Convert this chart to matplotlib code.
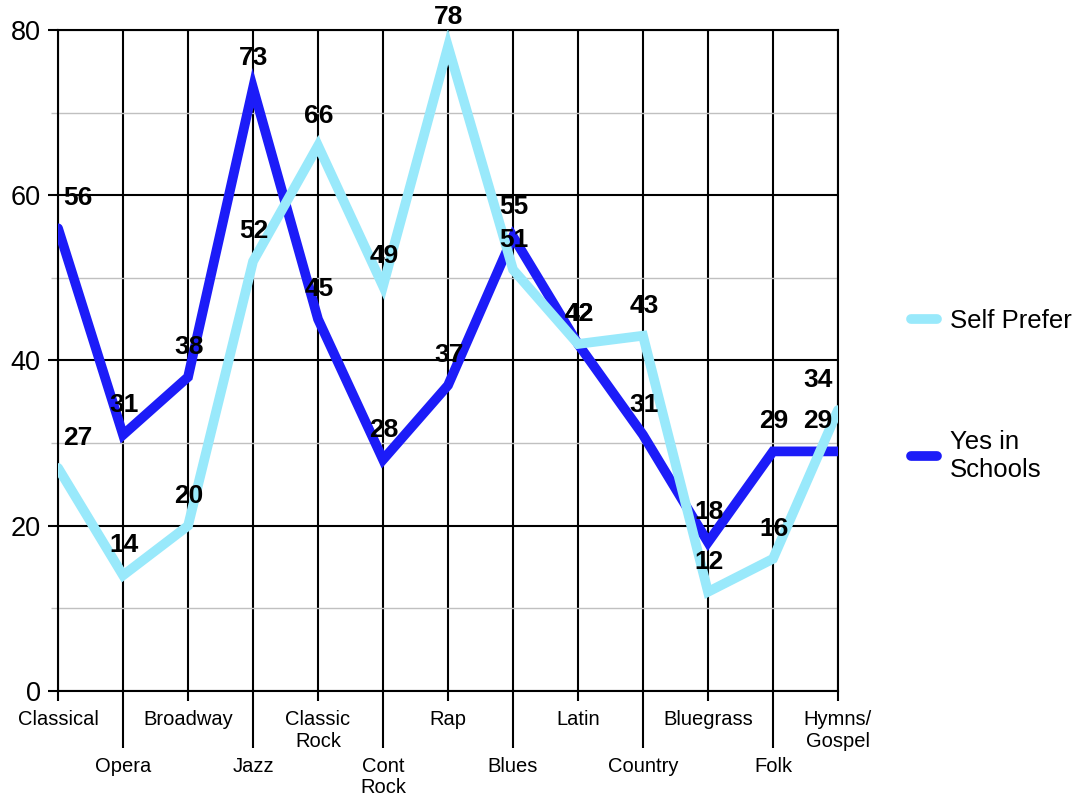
import matplotlib.pyplot as plt
import numpy as np

plt.rcParams['font.family'] = ['Liberation Sans', 'DejaVu Sans']

genres = ['Classical', 'Opera', 'Broadway', 'Jazz', 'Classic\nRock', 'Cont\nRock',
          'Rap', 'Blues', 'Latin', 'Country', 'Bluegrass', 'Folk', 'Hymns/\nGospel']
self_prefer = [27, 14, 20, 52, 66, 49, 78, 51, 42, 43, 12, 16, 34]
yes_in_schools = [56, 31, 38, 73, 45, 28, 37, 55, 42, 31, 18, 29, 29]

cyan = '#99e9fb'
blue = '#1c1cf8'

fig = plt.figure(figsize=(10.81, 8.02), dpi=100)
ax = fig.add_axes([0.0537, 0.1384, 0.7215, 0.8242])

x = np.arange(len(genres))
ax.plot(x, yes_in_schools, color=blue, lw=7, solid_capstyle='round',
        solid_joinstyle='miter', label='Yes in\nSchools', zorder=3)
ax.plot(x, self_prefer, color=cyan, lw=7, solid_capstyle='round',
        solid_joinstyle='miter', label='Self Prefer', zorder=4)

# value labels above each point, nudged inward at the ends
for series in (self_prefer, yes_in_schools):
    for i, v in enumerate(series):
        dx = 20 if i == 0 else (-20 if i == len(series) - 1 else 1)
        ax.annotate(str(v), (i, v), xytext=(dx, 30), textcoords='offset pixels',
                    ha='center', va='center', fontsize=19, fontweight='bold',
                    zorder=6)

ax.set_xlim(0, len(genres) - 1)
ax.set_ylim(0, 80)

# staggered category labels: even on major ticks, odd on minor ticks
ax.set_xticks(x[::2])
ax.set_xticklabels(genres[::2], fontsize=14.5, linespacing=1.15, va='top')
ax.set_xticks(x[1::2], minor=True)
ax.set_xticklabels(genres[1::2], minor=True, fontsize=14.5, linespacing=1.15, va='top')
ax.tick_params(axis='x', which='major', length=7, width=1.5, pad=7)
ax.tick_params(axis='x', which='minor', length=41, width=1.5, pad=6.5)

ax.set_yticks([0, 20, 40, 60, 80])
ax.set_yticks([10, 30, 50, 70], minor=True)
ax.tick_params(axis='y', which='major', length=7, width=1.5, pad=5.5, labelsize=19.5)
ax.tick_params(axis='y', which='minor', length=5, width=1, color='#c0c0c0')

ax.xaxis.grid(True, which='both', color='black', lw=1.5, zorder=1)
ax.yaxis.grid(True, which='major', color='black', lw=1.5, zorder=1)
ax.yaxis.grid(True, which='minor', color='#c0c0c0', lw=1, zorder=1)
ax.set_axisbelow(True)

for s in ax.spines.values():
    s.set_linewidth(1.5)
    s.set_color('black')

handles, labels = ax.get_legend_handles_labels()
leg = ax.legend(handles[::-1], labels[::-1], loc='center left',
                bbox_to_anchor=(1.094, 0.447), frameon=False, fontsize=18.5,
                handlelength=1.0, handletextpad=0.5, labelspacing=3.75,
                borderaxespad=0, borderpad=0)

fig.savefig('out.png', dpi=100)
